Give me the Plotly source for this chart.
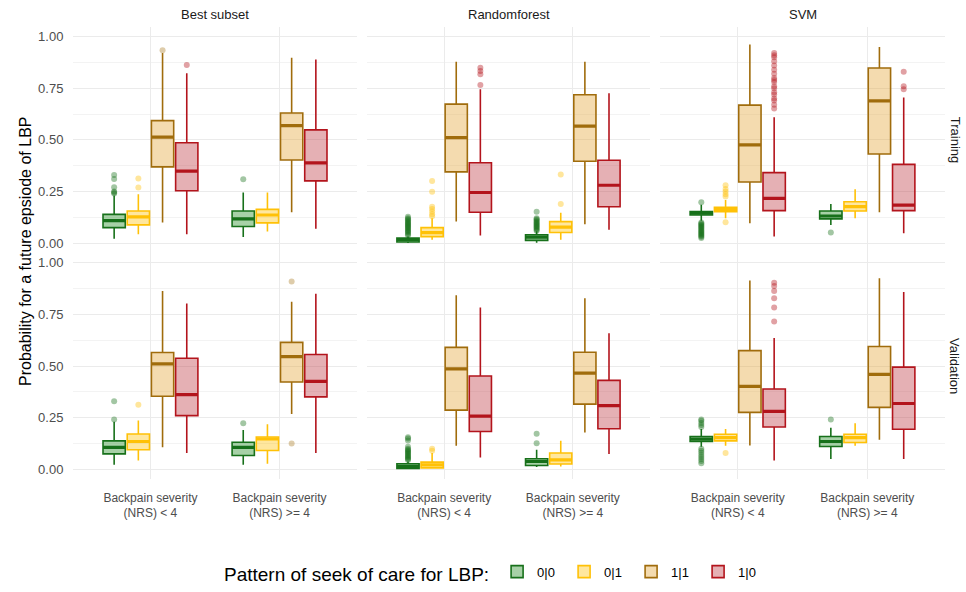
import plotly.graph_objects as go

# ---------------- data ----------------
models = ["Best subset", "Randomforest", "SVM"]
datasets = ["Training", "Validation"]
groups = ["0|0", "0|1", "1|1", "1|0"]
severity_labels = ["Backpain severity<br>(NRS) < 4", "Backpain severity<br>(NRS) >= 4"]
y_ticks = [0.0, 0.25, 0.5, 0.75, 1.0]

# Each stat list: [NRS<4: 0|0, 0|1, 1|1, 1|0,  NRS>=4: 0|0, 0|1, 1|1, 1|0]
best_train_low = [0.021, 0.043, 0.099, 0.043, 0.029, 0.056, 0.149, 0.069]
best_train_q1 = [0.075, 0.088, 0.369, 0.253, 0.080, 0.098, 0.402, 0.301]
best_train_med = [0.109, 0.127, 0.513, 0.348, 0.117, 0.136, 0.569, 0.388]
best_train_q3 = [0.139, 0.155, 0.593, 0.486, 0.155, 0.163, 0.630, 0.548]
best_train_up = [0.230, 0.237, 0.921, 0.822, 0.245, 0.245, 0.897, 0.889]
best_train_out = [[0.24, 0.245, 0.25, 0.27, 0.31, 0.33], [0.269, 0.313], [0.934], [0.862],
                  [0.309], [], [], []]

rf_train_low = [0.000, 0.016, 0.104, 0.037, 0.002, 0.016, 0.091, 0.064]
rf_train_q1 = [0.005, 0.031, 0.345, 0.149, 0.013, 0.051, 0.396, 0.176]
rf_train_med = [0.016, 0.051, 0.511, 0.245, 0.029, 0.077, 0.566, 0.280]
rf_train_q3 = [0.024, 0.075, 0.673, 0.389, 0.040, 0.104, 0.718, 0.401]
rf_train_up = [0.032, 0.120, 0.878, 0.745, 0.057, 0.147, 0.878, 0.726]
rf_train_out = [[0.038, 0.043, 0.05, 0.055, 0.06, 0.065, 0.07, 0.075, 0.08, 0.085, 0.09, 0.095,
                 0.1, 0.105, 0.11, 0.115, 0.12, 0.128],
                [0.13, 0.14, 0.153, 0.165, 0.176, 0.248, 0.301], [], [0.766, 0.817, 0.833, 0.849],
                [0.06, 0.065, 0.07, 0.075, 0.08, 0.085, 0.09, 0.095, 0.1, 0.105, 0.11, 0.115, 0.12, 0.152],
                [0.189, 0.332], [], []]

svm_train_low = [0.108, 0.120, 0.096, 0.032, 0.088, 0.120, 0.149, 0.048]
svm_train_q1 = [0.136, 0.152, 0.296, 0.157, 0.117, 0.155, 0.431, 0.157]
svm_train_med = [0.145, 0.163, 0.476, 0.216, 0.131, 0.176, 0.689, 0.184]
svm_train_q3 = [0.153, 0.173, 0.668, 0.341, 0.155, 0.200, 0.848, 0.381]
svm_train_up = [0.185, 0.208, 0.962, 0.609, 0.189, 0.261, 0.950, 0.705]
svm_train_out = [[0.025, 0.03, 0.035, 0.04, 0.045, 0.05, 0.055, 0.06, 0.065, 0.07, 0.075, 0.08,
                  0.085, 0.09, 0.095, 0.1, 0.198],
                 [0.101, 0.225, 0.237, 0.25, 0.262, 0.28], [],
                 [0.652, 0.67, 0.69, 0.70, 0.72, 0.73, 0.75, 0.76, 0.78, 0.79, 0.80, 0.82, 0.84,
                  0.86, 0.88, 0.90, 0.91, 0.92],
                 [0.051], [], [], [0.745, 0.76, 0.83]]

best_val_low = [0.022, 0.043, 0.107, 0.079, 0.022, 0.027, 0.268, 0.079]
best_val_q1 = [0.075, 0.095, 0.354, 0.260, 0.067, 0.091, 0.423, 0.351]
best_val_med = [0.106, 0.135, 0.511, 0.362, 0.106, 0.147, 0.546, 0.426]
best_val_q3 = [0.138, 0.171, 0.566, 0.538, 0.131, 0.157, 0.615, 0.556]
best_val_up = [0.231, 0.236, 0.864, 0.803, 0.191, 0.218, 0.812, 0.851]
best_val_out = [[0.242, 0.33], [0.313], [], [], [0.223], [], [0.125, 0.91], []]

rf_val_low = [0.002, 0.004, 0.114, 0.058, 0.011, 0.014, 0.178, 0.074]
rf_val_q1 = [0.004, 0.007, 0.287, 0.183, 0.019, 0.026, 0.316, 0.197]
rf_val_med = [0.014, 0.022, 0.487, 0.258, 0.038, 0.046, 0.466, 0.309]
rf_val_q3 = [0.027, 0.035, 0.591, 0.452, 0.051, 0.079, 0.567, 0.431]
rf_val_up = [0.038, 0.079, 0.843, 0.784, 0.095, 0.139, 0.829, 0.659]
rf_val_out = [[0.045, 0.05, 0.055, 0.06, 0.065, 0.07, 0.075, 0.08, 0.085, 0.09, 0.095, 0.1, 0.11,
               0.14, 0.15, 0.155],
              [0.09, 0.1], [], [], [0.127, 0.172], [], [], []]

svm_val_low = [0.110, 0.114, 0.115, 0.043, 0.050, 0.114, 0.143, 0.050]
svm_val_q1 = [0.135, 0.138, 0.276, 0.205, 0.111, 0.130, 0.300, 0.194]
svm_val_med = [0.146, 0.154, 0.402, 0.281, 0.135, 0.154, 0.460, 0.319]
svm_val_q3 = [0.159, 0.170, 0.575, 0.389, 0.159, 0.170, 0.595, 0.495]
svm_val_up = [0.195, 0.196, 0.915, 0.636, 0.202, 0.223, 0.925, 0.859]
svm_val_out = [[0.03, 0.04, 0.05, 0.06, 0.07, 0.08, 0.09, 0.1, 0.205, 0.215, 0.225, 0.235, 0.242],
               [0.079], [], [0.716, 0.784, 0.829, 0.864, 0.888, 0.904],
               [0.242], [], [], []]

panels = {
    ("Training", "Best subset"): (best_train_low, best_train_q1, best_train_med, best_train_q3, best_train_up, best_train_out),
    ("Training", "Randomforest"): (rf_train_low, rf_train_q1, rf_train_med, rf_train_q3, rf_train_up, rf_train_out),
    ("Training", "SVM"): (svm_train_low, svm_train_q1, svm_train_med, svm_train_q3, svm_train_up, svm_train_out),
    ("Validation", "Best subset"): (best_val_low, best_val_q1, best_val_med, best_val_q3, best_val_up, best_val_out),
    ("Validation", "Randomforest"): (rf_val_low, rf_val_q1, rf_val_med, rf_val_q3, rf_val_up, rf_val_out),
    ("Validation", "SVM"): (svm_val_low, svm_val_q1, svm_val_med, svm_val_q3, svm_val_up, svm_val_out),
}

# ---------------- styles ----------------
line_colors = {"0|0": "#17701A", "0|1": "#FFC107", "1|1": "#A06C0C", "1|0": "#B3141C"}
fill_colors = {"0|0": "rgba(34,139,34,0.40)", "0|1": "rgba(255,192,0,0.38)",
               "1|1": "rgba(228,165,55,0.40)", "1|0": "rgba(190,58,68,0.40)"}
point_colors = {"0|0": "rgba(23,112,26,0.40)", "0|1": "rgba(255,193,7,0.40)",
                "1|1": "rgba(160,108,12,0.35)", "1|0": "rgba(179,20,28,0.40)"}

FONT = "Liberation Sans, Arial, sans-serif"
W, H = 966, 592
dodge = 0.75
slot = dodge / len(groups)
box_w = slot * 0.92
offsets = [-dodge / 2 + slot * (i + 0.5) for i in range(len(groups))]

col_px = [(73, 357), (367, 650), (660, 945)]
row_px = [(27, 256), (256, 485)]

fig = go.Figure()
layout_axes = {}

for r, ds in enumerate(datasets):
    for c, model in enumerate(models):
        p = r * 3 + c
        sfx = "" if p == 0 else str(p + 1)
        xa, ya = "x" + sfx, "y" + sfx
        low, q1, med, q3, up, outs = panels[(ds, model)]
        for gi, g in enumerate(groups):
            idx = [gi, gi + len(groups)]
            pos = [k + offsets[gi] for k in range(len(severity_labels))]
            fig.add_trace(go.Box(
                x=pos, lowerfence=[low[i] for i in idx], q1=[q1[i] for i in idx],
                median=[med[i] for i in idx], q3=[q3[i] for i in idx],
                upperfence=[up[i] for i in idx], width=box_w, whiskerwidth=0,
                boxpoints=False, fillcolor=fill_colors[g],
                line=dict(color=line_colors[g], width=1.6),
                name=g, legendgroup=g, showlegend=(p == 0),
                xaxis=xa, yaxis=ya, hoverinfo="skip"))
            # thicker median bar
            mx, my = [], []
            for k, i in enumerate(idx):
                mx += [pos[k] - box_w / 2, pos[k] + box_w / 2, None]
                my += [med[i], med[i], None]
            fig.add_trace(go.Scatter(x=mx, y=my, mode="lines",
                                     line=dict(color=line_colors[g], width=3.2),
                                     showlegend=False, xaxis=xa, yaxis=ya, hoverinfo="skip"))
            ox, oy = [], []
            for k, i in enumerate(idx):
                ox += [pos[k]] * len(outs[i])
                oy += outs[i]
            if ox:
                fig.add_trace(go.Scatter(x=ox, y=oy, mode="markers",
                                         marker=dict(color=point_colors[g], size=6, line=dict(width=0)),
                                         showlegend=False, xaxis=xa, yaxis=ya, hoverinfo="skip"))

        x0, x1 = col_px[c]
        y0, y1 = row_px[r]
        xkey = "xaxis" + sfx
        ykey = "yaxis" + sfx
        layout_axes[xkey] = dict(
            domain=[x0 / W, x1 / W], anchor=ya, range=[-0.6, 1.6],
            tickvals=list(range(len(severity_labels))), ticktext=severity_labels,
            showticklabels=(r == 1), showgrid=True, gridcolor="#EBEBEB", gridwidth=1.1,
            zeroline=False, showline=False, ticks="outside", ticklen=7,
            tickcolor="rgba(0,0,0,0)",
            tickfont=dict(family=FONT, size=12, color="#4D4D4D"))
        layout_axes[ykey] = dict(
            domain=[1 - y1 / H, 1 - y0 / H], anchor=xa, range=[-0.048, 1.048],
            tickvals=y_ticks, tickformat=".2f", showticklabels=(c == 0),
            showgrid=True, gridcolor="#EBEBEB", gridwidth=1.1, zeroline=False,
            showline=False, ticks="outside", ticklen=6, tickcolor="rgba(0,0,0,0)",
            minor=dict(tickvals=[0.125, 0.375, 0.625, 0.875], showgrid=True,
                       gridcolor="#F3F3F3", gridwidth=0.6, ticks=""),
            tickfont=dict(family=FONT, size=13, color="#4D4D4D"))

annotations = []
for c, model in enumerate(models):
    x0, x1 = col_px[c]
    annotations.append(dict(text=model, x=(x0 + x1) / 2 / W, y=1 - 15 / H, xref="paper", yref="paper",
                            xanchor="center", yanchor="middle", showarrow=False,
                            font=dict(family=FONT, size=13, color="#1A1A1A")))
for r, ds in enumerate(datasets):
    y0, y1 = row_px[r]
    annotations.append(dict(text=ds, x=955 / W, y=1 - (y0 + y1) / 2 / H, xref="paper", yref="paper",
                            xanchor="center", yanchor="middle", showarrow=False, textangle=90,
                            font=dict(family=FONT, size=13, color="#1A1A1A")))
annotations.append(dict(text="Probability for a future epsiode of LBP", x=26 / W, y=1 - 254 / H,
                        xref="paper", yref="paper", xanchor="center", yanchor="middle",
                        showarrow=False, textangle=-90,
                        font=dict(family=FONT, size=16, color="#000000")))

fig.update_layout(
    width=W, height=H, margin=dict(l=0, r=0, t=0, b=0),
    paper_bgcolor="white", plot_bgcolor="white",
    font=dict(family=FONT, color="#000000"),
    annotations=annotations,
    legend=dict(orientation="h", x=494 / W, xanchor="center", y=1 - 581 / H, yanchor="middle",
                title=dict(text="Pattern of seek of care for LBP:", side="left",
                           font=dict(family=FONT, size=19, color="#000000")),
                entrywidth=22, entrywidthmode="pixels",
                font=dict(family=FONT, size=13, color="#000000"), bgcolor="rgba(0,0,0,0)"),
    **layout_axes,
)

fig.write_html("out.html", config={"displayModeBar": False},
               post_script="document.body.style.margin='0px';")
